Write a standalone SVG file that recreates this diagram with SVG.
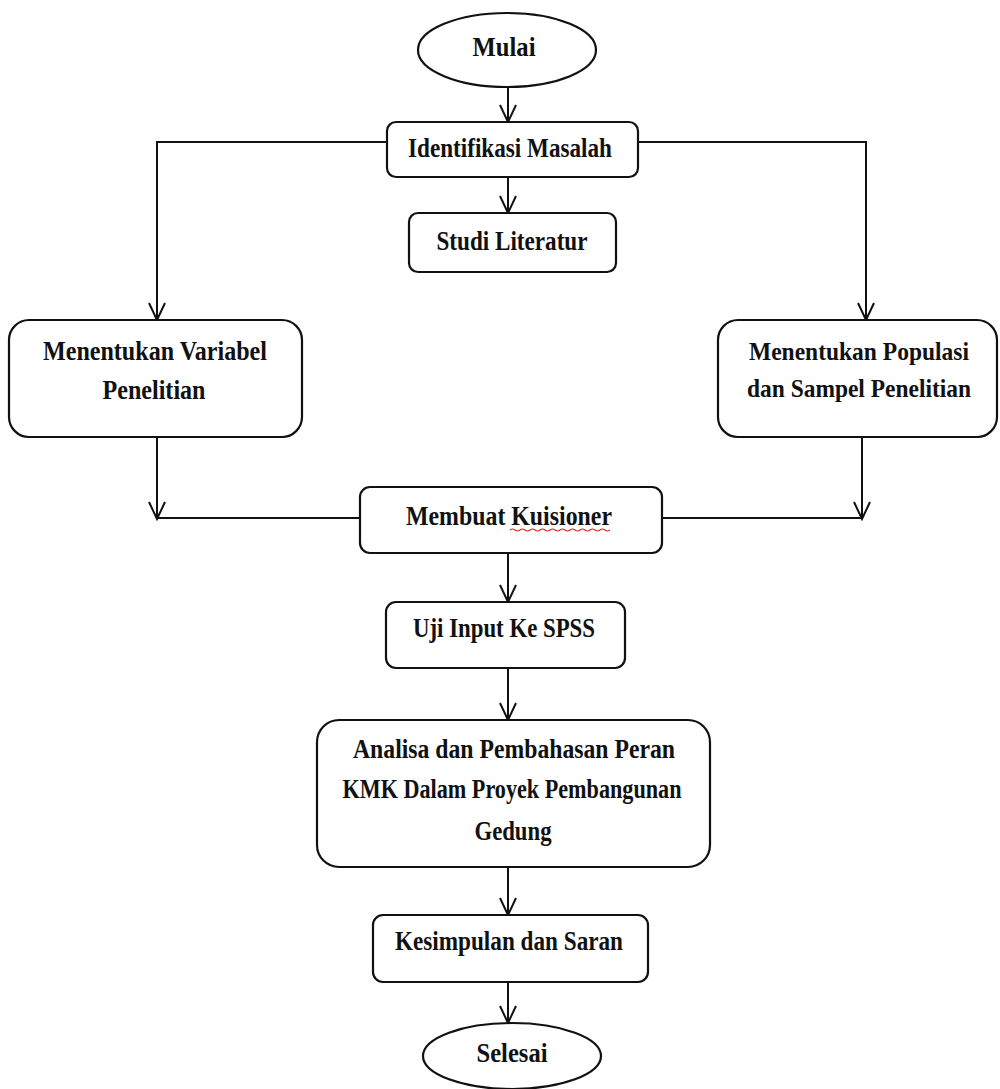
<svg xmlns="http://www.w3.org/2000/svg" width="1000" height="1089" viewBox="0 0 1000 1089">
<style>
.box{fill:#fff;stroke:#111;stroke-width:2.2}
.t{font-family:"Liberation Serif","Times New Roman",serif;font-weight:bold;font-size:28px;fill:#111;text-anchor:middle}
.s{font-size:26px}
.c{fill:none;stroke:#111;stroke-width:2}
</style>
<defs>
<marker id="arr" markerUnits="userSpaceOnUse" markerWidth="20" markerHeight="20" viewBox="-1 -10 20 20" refX="17" refY="0" orient="auto">
<path d="M0,-8 L17,0 L0,8" fill="none" stroke="#111" stroke-width="2"/>
</marker>
</defs>
<rect width="1000" height="1089" fill="#fff"/>
<g id="connectors">
<line class="c" x1="508" y1="87" x2="508" y2="122" marker-end="url(#arr)"/>
<line class="c" x1="508" y1="177" x2="508" y2="213" marker-end="url(#arr)"/>
<polyline class="c" points="387,142 157,142 157,320" marker-end="url(#arr)"/>
<polyline class="c" points="638,142 866,142 866,320" marker-end="url(#arr)"/>
<line class="c" x1="157" y1="437" x2="157" y2="519" marker-end="url(#arr)"/>
<line class="c" x1="157" y1="518" x2="360" y2="518"/>
<line class="c" x1="862" y1="437" x2="862" y2="519" marker-end="url(#arr)"/>
<line class="c" x1="862" y1="518" x2="662" y2="518"/>
<line class="c" x1="508" y1="553" x2="508" y2="602" marker-end="url(#arr)"/>
<line class="c" x1="508" y1="668" x2="508" y2="720" marker-end="url(#arr)"/>
<line class="c" x1="508" y1="867" x2="508" y2="915" marker-end="url(#arr)"/>
<line class="c" x1="508" y1="982" x2="508" y2="1023" marker-end="url(#arr)"/>
</g>
<g id="mulai">
<ellipse class="box" cx="507" cy="50" rx="89" ry="37"/>
<text class="t" x="504" y="56" textLength="63" lengthAdjust="spacingAndGlyphs">Mulai</text>
</g>
<g id="identifikasi">
<rect class="box" x="387" y="122" width="251" height="55" rx="9"/>
<text class="t" x="510" y="157" textLength="204" lengthAdjust="spacingAndGlyphs">Identifikasi Masalah</text>
</g>
<g id="studi">
<rect class="box" x="409" y="213" width="207" height="59" rx="9"/>
<text class="t" x="512" y="250" textLength="151" lengthAdjust="spacingAndGlyphs">Studi Literatur</text>
</g>
<g id="variabel">
<rect class="box" x="9" y="320" width="293" height="117" rx="20"/>
<text class="t" x="155" y="360" textLength="224" lengthAdjust="spacingAndGlyphs">Menentukan Variabel</text>
<text class="t" x="154" y="399" textLength="103" lengthAdjust="spacingAndGlyphs">Penelitian</text>
</g>
<g id="populasi">
<rect class="box" x="718" y="320" width="279" height="117" rx="20"/>
<text class="t s" x="859" y="360" textLength="220" lengthAdjust="spacingAndGlyphs">Menentukan Populasi</text>
<text class="t s" x="859" y="397" textLength="224" lengthAdjust="spacingAndGlyphs">dan Sampel Penelitian</text>
</g>
<g id="kuisioner">
<rect class="box" x="360" y="487" width="302" height="66" rx="10"/>
<text class="t" x="509" y="525" textLength="206" lengthAdjust="spacingAndGlyphs">Membuat Kuisioner</text>
<path d="M510,530 q2.5,-2 5,0 t5,0 t5,0 t5,0 t5,0 t5,0 t5,0 t5,0 t5,0 t5,0 t5,0 t5,0 t5,0 t5,0 t5,0 t5,0 t5,0 t5,0 t5,0 t5,0" fill="none" stroke="#e02020" stroke-width="1.2"/>
</g>
<g id="uji">
<rect class="box" x="386" y="602" width="239" height="66" rx="10"/>
<text class="t" x="504" y="637" textLength="182" lengthAdjust="spacingAndGlyphs">Uji Input Ke SPSS</text>
</g>
<g id="analisa">
<rect class="box" x="317" y="720" width="393" height="147" rx="22"/>
<text class="t" x="514" y="758" textLength="322" lengthAdjust="spacingAndGlyphs">Analisa dan Pembahasan Peran</text>
<text class="t" x="512" y="798" textLength="339" lengthAdjust="spacingAndGlyphs">KMK Dalam Proyek Pembangunan</text>
<text class="t" x="513" y="840" textLength="77" lengthAdjust="spacingAndGlyphs">Gedung</text>
</g>
<g id="kesimpulan">
<rect class="box" x="373" y="915" width="275" height="67" rx="10"/>
<text class="t" x="509" y="950" textLength="228" lengthAdjust="spacingAndGlyphs">Kesimpulan dan Saran</text>
</g>
<g id="selesai">
<ellipse class="box" cx="512" cy="1056" rx="89" ry="33"/>
<text class="t" x="512" y="1062" textLength="71" lengthAdjust="spacingAndGlyphs">Selesai</text>
</g>
</svg>
